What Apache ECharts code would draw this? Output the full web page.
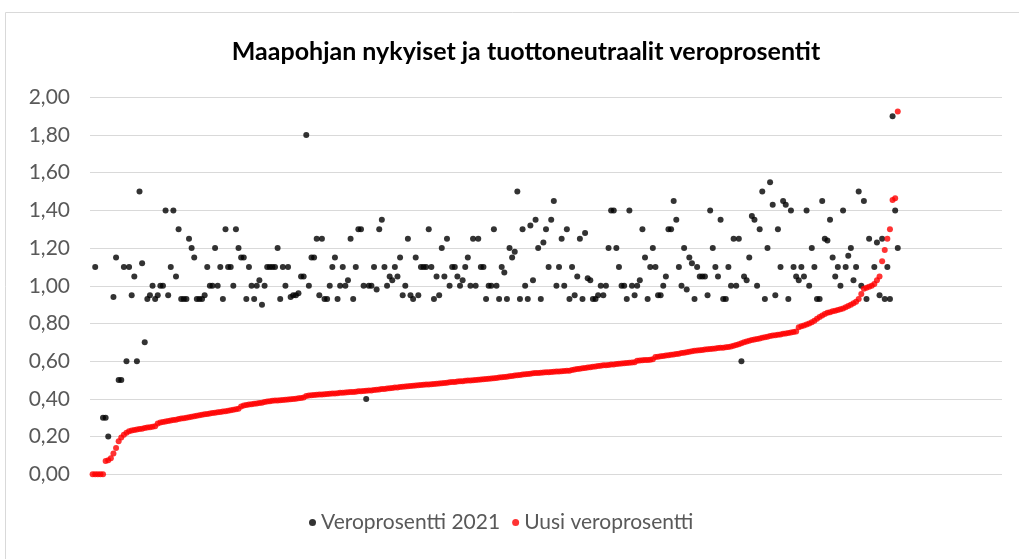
<!DOCTYPE html>
<html>
<head>
<meta charset="utf-8">
<script src="https://cdn.jsdelivr.net/npm/echarts@6/dist/echarts.min.js"></script>
<style>
    html, body { margin: 0; padding: 0; background: #fff; }
    #chart { width: 1019px; height: 559px; }
</style>
</head>
<body>
<div id="chart"></div>
<script>
// kunnat järjestetty uuden veroprosentin mukaan, x = järjestysnumero
const yTicks = [0, 0.2, 0.4, 0.6, 0.8, 1.0, 1.2, 1.4, 1.6, 1.8, 2.0];

// Uusi veroprosentti (punainen), 310 kuntaa
const uusiProsentti = [
    0, 0, 0, 0, 0, 0.07, 0.075, 0.085, 0.11, 0.14,
    0.175, 0.195, 0.21, 0.22, 0.228, 0.232, 0.235, 0.238, 0.24, 0.242,
    0.245, 0.248, 0.25, 0.252, 0.255, 0.27, 0.275, 0.278, 0.28, 0.283,
    0.285, 0.288, 0.29, 0.293, 0.296, 0.298, 0.30, 0.302, 0.305, 0.308,
    0.31, 0.313, 0.316, 0.318, 0.32, 0.322, 0.325, 0.327, 0.329, 0.331,
    0.333, 0.335, 0.337, 0.34, 0.342, 0.345, 0.348, 0.36, 0.365, 0.368,
    0.37, 0.372, 0.374, 0.376, 0.378, 0.38, 0.383, 0.386, 0.388, 0.39,
    0.391, 0.392, 0.393, 0.394, 0.396, 0.397, 0.398, 0.40, 0.401, 0.403,
    0.405, 0.407, 0.415, 0.418, 0.42, 0.421, 0.422, 0.423, 0.424, 0.425,
    0.426, 0.427, 0.428, 0.429, 0.43, 0.432, 0.433, 0.434, 0.435, 0.436,
    0.437, 0.438, 0.44, 0.441, 0.442, 0.443, 0.444, 0.445, 0.447, 0.448,
    0.45, 0.452, 0.453, 0.455, 0.456, 0.458, 0.46, 0.461, 0.463, 0.464,
    0.466, 0.467, 0.469, 0.47, 0.471, 0.472, 0.474, 0.475, 0.476, 0.477,
    0.478, 0.479, 0.48, 0.482, 0.483, 0.485, 0.486, 0.488, 0.489, 0.49,
    0.492, 0.493, 0.494, 0.496, 0.497, 0.498, 0.499, 0.50, 0.501, 0.503,
    0.504, 0.505, 0.507, 0.508, 0.51, 0.511, 0.513, 0.515, 0.516, 0.518,
    0.52, 0.522, 0.524, 0.525, 0.527, 0.529, 0.531, 0.532, 0.534, 0.536,
    0.537, 0.538, 0.539, 0.54, 0.541, 0.542, 0.543, 0.544, 0.545, 0.546,
    0.547, 0.548, 0.549, 0.55, 0.553, 0.556, 0.558, 0.56, 0.562, 0.564,
    0.566, 0.568, 0.57, 0.572, 0.574, 0.576, 0.578, 0.579, 0.58, 0.582,
    0.583, 0.585, 0.586, 0.588, 0.589, 0.59, 0.592, 0.593, 0.595, 0.603,
    0.604, 0.605, 0.606, 0.607, 0.608, 0.61, 0.622, 0.624, 0.626, 0.628,
    0.63, 0.632, 0.634, 0.636, 0.638, 0.64, 0.643, 0.645, 0.648, 0.65,
    0.653, 0.655, 0.657, 0.658, 0.66, 0.662, 0.663, 0.665, 0.666, 0.668,
    0.67, 0.671, 0.672, 0.674, 0.675, 0.678, 0.682, 0.686, 0.69, 0.695,
    0.70, 0.704, 0.708, 0.712, 0.715, 0.718, 0.721, 0.724, 0.727, 0.73,
    0.734, 0.736, 0.738, 0.74, 0.742, 0.745, 0.747, 0.75, 0.752, 0.755,
    0.757, 0.78, 0.785, 0.79, 0.795, 0.80, 0.806, 0.815, 0.825, 0.835,
    0.842, 0.85, 0.857, 0.86, 0.865, 0.868, 0.872, 0.876, 0.88, 0.886,
    0.893, 0.90, 0.908, 0.916, 0.93, 0.956, 0.985, 0.99, 0.995, 1.00,
    1.01, 1.03, 1.05, 1.13, 1.19, 1.25, 1.30, 1.455, 1.465, 1.925
];

// Veroprosentti 2021 (musta), null = piste ei erotu kuvasta
const prosentti2021 = [
    null, 1.10, null, null, 0.30, 0.30, 0.20, null, 0.94, 1.15,
    0.50, 0.50, 1.10, 0.60, 1.10, 0.95, 1.05, 0.60, 1.50, 1.12,
    0.70, 0.93, 0.95, 1.00, 0.93, 0.95, 1.00, 1.00, 1.40, 0.95,
    1.10, 1.40, 1.05, 1.30, 0.93, 0.93, 0.93, 1.25, 1.20, 1.15,
    0.93, 0.93, 0.93, 0.95, 1.10, 1.00, 1.00, 1.20, 1.00, 1.10,
    0.93, 1.30, 1.10, 1.10, 1.00, 1.30, 1.20, 1.15, 1.15, 0.93,
    1.10, 1.00, 0.93, 1.00, 1.03, 0.90, 1.00, 1.10, 1.10, 1.10,
    1.10, 1.20, 0.93, 1.10, 1.00, 1.10, 0.94, 0.95, 0.95, 0.96,
    1.05, 1.05, 1.80, 1.00, 1.15, 1.15, 1.25, 0.95, 1.25, 0.93,
    0.93, 1.00, 1.10, 1.15, 0.93, 1.00, 1.10, 1.00, 1.03, 1.25,
    0.93, 1.10, 1.30, 1.30, 1.00, 0.40, 1.00, 1.00, 1.10, 0.98,
    1.30, 1.35, 1.10, 1.00, 1.05, 1.03, 1.10, 1.05, 1.15, 0.95,
    1.00, 1.25, 0.95, 0.93, 1.15, 0.95, 1.10, 1.10, 1.10, 1.30,
    1.10, 0.93, 1.05, 0.95, 1.20, 1.05, 1.25, 1.00, 1.10, 1.10,
    1.05, 1.00, 1.03, 1.10, 1.15, 1.00, 1.25, 1.00, 1.25, 1.10,
    1.10, 0.93, 1.00, 1.00, 1.30, 1.00, 0.93, 1.10, 1.07, 0.93,
    1.20, 1.15, 1.18, 1.50, 0.93, 1.30, 1.00, 0.93, 1.32, 1.03,
    1.35, 1.20, 0.93, 1.23, 1.30, 1.10, 1.35, 1.45, 1.00, 1.10,
    1.25, 1.00, 1.30, 0.93, 1.10, 0.95, 1.05, 1.25, 0.93, 1.28,
    1.04, 1.03, 0.93, 0.93, 0.95, 1.00, 0.95, 1.00, 1.20, 1.40,
    1.40, 1.20, 1.10, 1.00, 1.00, 0.93, 1.40, 1.00, 0.95, 1.00,
    1.03, 1.30, 1.15, 0.93, 1.10, 1.20, 1.10, 0.95, 0.95, 1.00,
    1.05, 1.30, 1.30, 1.45, 1.35, 1.10, 1.00, 1.20, 0.98, 1.15,
    1.12, 0.93, 1.10, 1.05, 1.05, 1.05, 0.95, 1.40, 1.20, 1.10,
    1.05, 1.35, 0.93, 0.93, 1.10, 1.00, 1.25, 1.00, 1.25, 0.60,
    1.05, 1.03, 1.15, 1.37, 1.35, 1.00, 1.30, 1.50, 0.93, 1.20,
    1.55, 1.43, 0.95, 1.30, 1.10, 1.45, 1.43, 0.93, 1.40, 1.10,
    1.05, 1.03, 1.10, 1.05, 1.40, 1.00, 1.20, 1.10, 0.93, 0.93,
    1.45, 1.25, 1.24, 1.35, 1.15, 1.05, 1.10, 1.00, 1.40, 1.10,
    1.16, 1.20, 1.03, 1.10, 1.50, 1.00, 1.45, 0.93, 1.25, null,
    1.10, 1.23, 0.95, 1.25, 0.93, 1.10, 0.93, 1.90, 1.40, 1.20
];

const seriesNames = ['Veroprosentti 2021', 'Uusi veroprosentti'];

(function(){
    let chart = {
        init(){
            this.myChart = echarts.init(document.getElementById('chart'));
            this.draw();
        },
        toPoints(arr){
            let out = [];
            arr.forEach((v, i) => {
                if (v !== null) out.push([i + 1, v]);
            });
            return out;
        },
        draw(){
            let font = 'Lato, "Liberation Sans", sans-serif';
            let option = {
                animation: false,
                backgroundColor: '#fff',
                title: {
                    text: 'Maapohjan nykyiset ja tuottoneutraalit veroprosentit',
                    left: 521,
                    top: 34,
                    textAlign: 'center',
                    textStyle: {
                        fontFamily: font,
                        fontWeight: 'bold',
                        fontSize: 25,
                        color: '#000'
                    }
                },
                legend: {
                    data: seriesNames,
                    bottom: 21,
                    left: 304,
                    icon: 'circle',
                    itemWidth: 7,
                    itemHeight: 7,
                    itemGap: 12,
                    textStyle: {
                        fontFamily: font,
                        fontSize: 21,
                        color: '#595959'
                    }
                },
                grid: {
                    left: 90,
                    right: 17,
                    top: 97.3,
                    bottom: 84.7,
                    containLabel: false
                },
                xAxis: {
                    type: 'value',
                    min: 0,
                    max: 350,
                    show: false
                },
                yAxis: {
                    type: 'value',
                    min: yTicks[0],
                    max: yTicks[yTicks.length - 1],
                    interval: 0.2,
                    axisLine: { show: false },
                    axisTick: { show: false },
                    splitLine: { lineStyle: { color: '#d9d9d9', width: 1 } },
                    axisLabel: {
                        margin: 20,
                        fontFamily: font,
                        fontSize: 21,
                        color: '#595959',
                        formatter: v => v.toFixed(2).replace('.', ',')
                    }
                },
                series: [
                    {
                        name: seriesNames[0],
                        type: 'scatter',
                        symbolSize: 6,
                        itemStyle: { color: '#000' },
                        data: this.toPoints(prosentti2021)
                    },
                    {
                        name: seriesNames[1],
                        type: 'scatter',
                        symbolSize: 6,
                        itemStyle: { color: '#ff0000' },
                        data: this.toPoints(uusiProsentti)
                    }
                ],
                graphic: [{
                    type: 'rect',
                    shape: { x: 5.5, y: 12.5, width: 1040, height: 600 },
                    style: { fill: 'none', stroke: '#d9d9d9', lineWidth: 1 },
                    silent: true
                }]
            };
            this.myChart.setOption(option);
        }
    }
    chart.init()
})()
</script>
</body>
</html>
